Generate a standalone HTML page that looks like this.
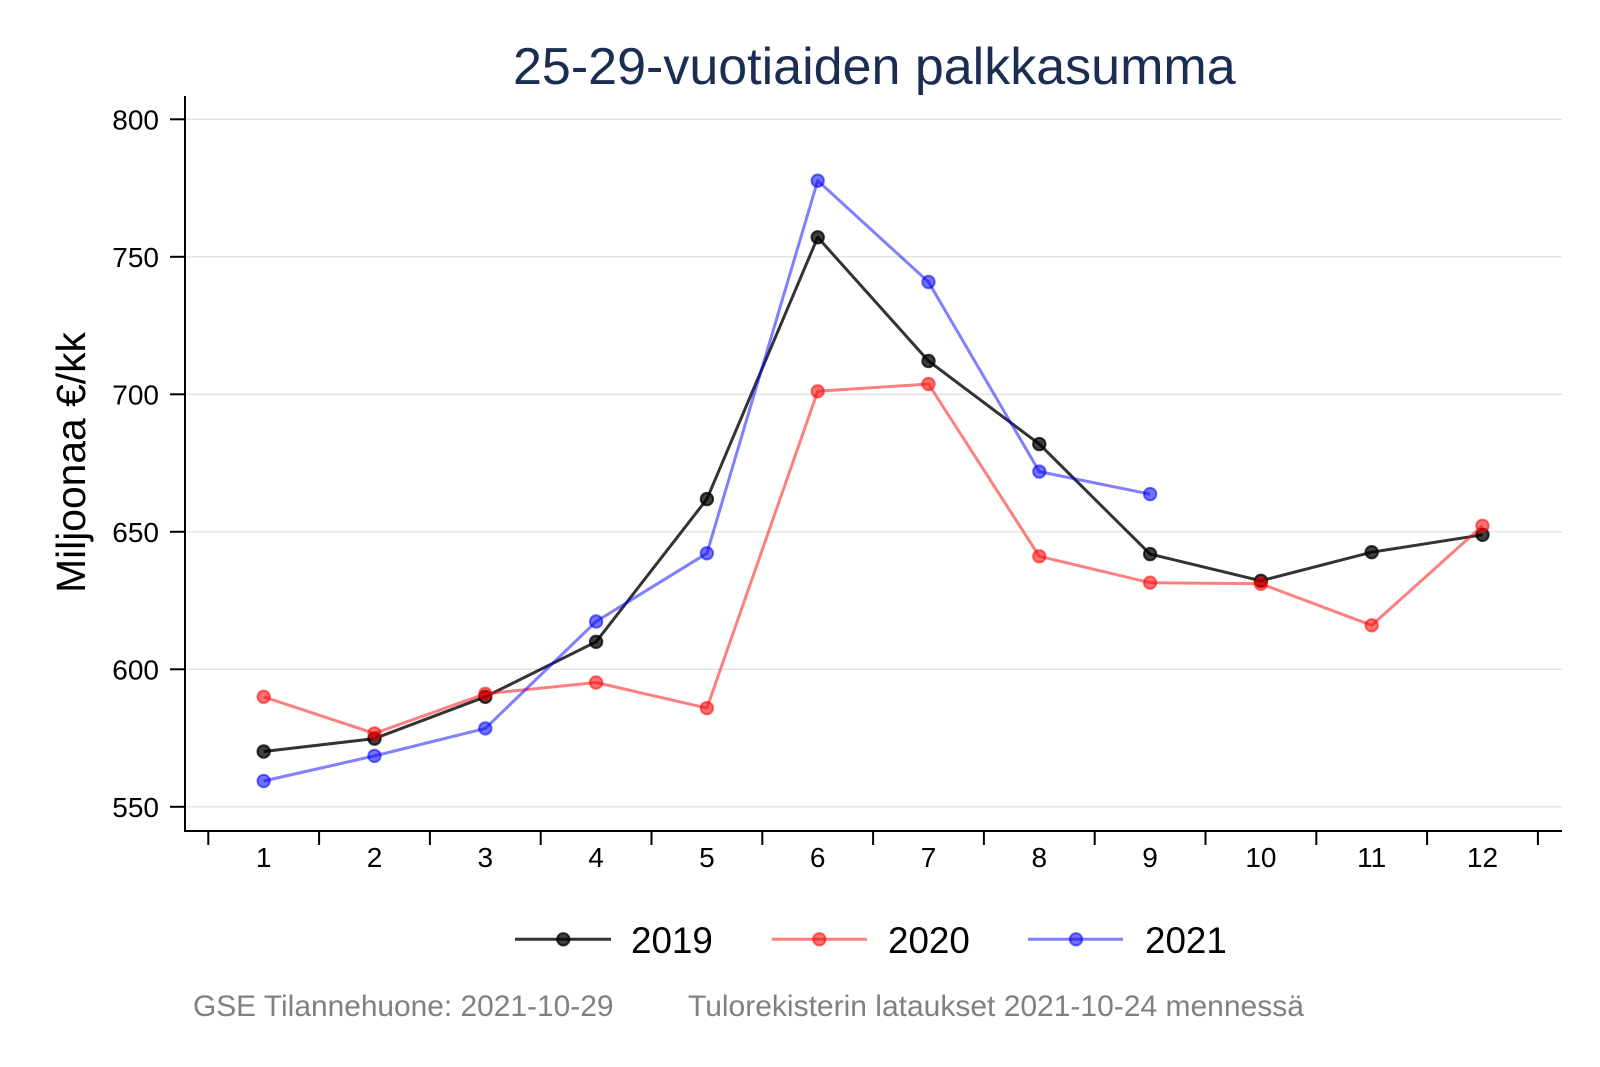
<!DOCTYPE html>
<html>
<head>
<meta charset="utf-8">
<style>
  html,body{margin:0;padding:0;background:#fff;}
  svg{display:block;}
  text{font-family:"Liberation Sans",Arial,sans-serif;}
</style>
</head>
<body>
<svg width="1600" height="1067" viewBox="0 0 1600 1067" xmlns="http://www.w3.org/2000/svg">
  <rect x="0" y="0" width="1600" height="1067" fill="#fff"/>

  <!-- Title -->
  <text x="513" y="84" font-size="52" fill="#1c2d52">25-29-vuotiaiden palkkasumma</text>

  <!-- Gridlines -->
  <g stroke="#e3e3e3" stroke-width="1.3">
    <line x1="186" y1="119.3" x2="1562" y2="119.3"/>
    <line x1="186" y1="256.8" x2="1562" y2="256.8"/>
    <line x1="186" y1="394.3" x2="1562" y2="394.3"/>
    <line x1="186" y1="531.8" x2="1562" y2="531.8"/>
    <line x1="186" y1="669.3" x2="1562" y2="669.3"/>
    <line x1="186" y1="806.8" x2="1562" y2="806.8"/>
  </g>

  <!-- Axes -->
  <g stroke="#000" stroke-width="2">
    <line x1="185" y1="96" x2="185" y2="832"/>
    <line x1="184" y1="831" x2="1562" y2="831"/>
    <!-- y ticks -->
    <line x1="170" y1="119.3" x2="185" y2="119.3"/>
    <line x1="170" y1="256.8" x2="185" y2="256.8"/>
    <line x1="170" y1="394.3" x2="185" y2="394.3"/>
    <line x1="170" y1="531.8" x2="185" y2="531.8"/>
    <line x1="170" y1="669.3" x2="185" y2="669.3"/>
    <line x1="170" y1="806.8" x2="185" y2="806.8"/>
    <!-- x ticks -->
    <line x1="208.3" y1="831" x2="208.3" y2="845"/>
    <line x1="319.1" y1="831" x2="319.1" y2="845"/>
    <line x1="429.9" y1="831" x2="429.9" y2="845"/>
    <line x1="540.7" y1="831" x2="540.7" y2="845"/>
    <line x1="651.5" y1="831" x2="651.5" y2="845"/>
    <line x1="762.3" y1="831" x2="762.3" y2="845"/>
    <line x1="873.1" y1="831" x2="873.1" y2="845"/>
    <line x1="983.9" y1="831" x2="983.9" y2="845"/>
    <line x1="1094.7" y1="831" x2="1094.7" y2="845"/>
    <line x1="1205.5" y1="831" x2="1205.5" y2="845"/>
    <line x1="1316.3" y1="831" x2="1316.3" y2="845"/>
    <line x1="1427.1" y1="831" x2="1427.1" y2="845"/>
    <line x1="1537.9" y1="831" x2="1537.9" y2="845"/>
  </g>

  <!-- Y tick labels -->
  <g font-size="28" fill="#000" text-anchor="end">
    <text x="159" y="129.3">800</text>
    <text x="159" y="266.8">750</text>
    <text x="159" y="404.3">700</text>
    <text x="159" y="541.8">650</text>
    <text x="159" y="679.3">600</text>
    <text x="159" y="816.8">550</text>
  </g>

  <!-- X tick labels -->
  <g font-size="28" fill="#000" text-anchor="middle">
    <text x="263.7" y="867">1</text>
    <text x="374.5" y="867">2</text>
    <text x="485.3" y="867">3</text>
    <text x="596.1" y="867">4</text>
    <text x="706.9" y="867">5</text>
    <text x="817.7" y="867">6</text>
    <text x="928.5" y="867">7</text>
    <text x="1039.3" y="867">8</text>
    <text x="1150.1" y="867">9</text>
    <text x="1260.9" y="867">10</text>
    <text x="1371.7" y="867">11</text>
    <text x="1482.5" y="867">12</text>
  </g>

  <!-- Y axis title -->
  <text transform="translate(85,462.5) rotate(-90)" font-size="40.8" fill="#000" text-anchor="middle">Miljoonaa €/kk</text>

  <!-- Series 2019 -->
  <polyline fill="none" stroke="#000" stroke-opacity="0.8" stroke-width="3" stroke-linejoin="round"
    points="263.7,751.5 374.5,738.6 485.3,696.8 596.1,641.8 706.9,499.1 817.7,237.3 928.5,361 1039.3,444.1 1150.1,554.1 1260.9,580.8 1371.7,552.2 1482.5,534.8"/>
  <g fill="#000" fill-opacity="0.75" stroke="#000" stroke-opacity="0.75" stroke-width="2">
    <circle cx="263.7" cy="751.5" r="6.2"/>
    <circle cx="374.5" cy="738.6" r="6.2"/>
    <circle cx="485.3" cy="696.8" r="6.2"/>
    <circle cx="596.1" cy="641.8" r="6.2"/>
    <circle cx="706.9" cy="499.1" r="6.2"/>
    <circle cx="817.7" cy="237.3" r="6.2"/>
    <circle cx="928.5" cy="361" r="6.2"/>
    <circle cx="1039.3" cy="444.1" r="6.2"/>
    <circle cx="1150.1" cy="554.1" r="6.2"/>
    <circle cx="1260.9" cy="580.8" r="6.2"/>
    <circle cx="1371.7" cy="552.2" r="6.2"/>
    <circle cx="1482.5" cy="534.8" r="6.2"/>
  </g>

  <!-- Series 2020 -->
  <polyline fill="none" stroke="#ff0000" stroke-opacity="0.5" stroke-width="3" stroke-linejoin="round"
    points="263.7,696.8 374.5,733.4 485.3,693.8 596.1,682.5 706.9,708.1 817.7,391.3 928.5,384 1039.3,556.3 1150.1,582.7 1260.9,583.8 1371.7,625.3 1482.5,525.8"/>
  <g fill="#ff0000" fill-opacity="0.55" stroke="#ff0000" stroke-opacity="0.55" stroke-width="2">
    <circle cx="263.7" cy="696.8" r="6.2"/>
    <circle cx="374.5" cy="733.4" r="6.2"/>
    <circle cx="485.3" cy="693.8" r="6.2"/>
    <circle cx="596.1" cy="682.5" r="6.2"/>
    <circle cx="706.9" cy="708.1" r="6.2"/>
    <circle cx="817.7" cy="391.3" r="6.2"/>
    <circle cx="928.5" cy="384" r="6.2"/>
    <circle cx="1039.3" cy="556.3" r="6.2"/>
    <circle cx="1150.1" cy="582.7" r="6.2"/>
    <circle cx="1260.9" cy="583.8" r="6.2"/>
    <circle cx="1371.7" cy="625.3" r="6.2"/>
    <circle cx="1482.5" cy="525.8" r="6.2"/>
  </g>

  <!-- Series 2021 -->
  <polyline fill="none" stroke="#0000ff" stroke-opacity="0.5" stroke-width="3" stroke-linejoin="round"
    points="263.7,781 374.5,755.9 485.3,728.4 596.1,621.5 706.9,553.3 817.7,180.7 928.5,282 1039.3,471.6 1150.1,494.1"/>
  <g fill="#0000ff" fill-opacity="0.55" stroke="#0000ff" stroke-opacity="0.55" stroke-width="2">
    <circle cx="263.7" cy="781" r="6.2"/>
    <circle cx="374.5" cy="755.9" r="6.2"/>
    <circle cx="485.3" cy="728.4" r="6.2"/>
    <circle cx="596.1" cy="621.5" r="6.2"/>
    <circle cx="706.9" cy="553.3" r="6.2"/>
    <circle cx="817.7" cy="180.7" r="6.2"/>
    <circle cx="928.5" cy="282" r="6.2"/>
    <circle cx="1039.3" cy="471.6" r="6.2"/>
    <circle cx="1150.1" cy="494.1" r="6.2"/>
  </g>

  <!-- Legend -->
  <line x1="515" y1="939.3" x2="611" y2="939.3" stroke="#000" stroke-opacity="0.8" stroke-width="3"/>
  <circle cx="563.3" cy="939.3" r="6.2" fill="#000" fill-opacity="0.75" stroke="#000" stroke-opacity="0.75" stroke-width="2"/>
  <text x="631" y="953" font-size="36.8" fill="#000">2019</text>

  <line x1="771.7" y1="939.3" x2="867" y2="939.3" stroke="#ff0000" stroke-opacity="0.5" stroke-width="3"/>
  <circle cx="819.3" cy="939.3" r="6.2" fill="#ff0000" fill-opacity="0.55" stroke="#ff0000" stroke-opacity="0.55" stroke-width="2"/>
  <text x="888" y="953" font-size="36.8" fill="#000">2020</text>

  <line x1="1028" y1="939.3" x2="1123" y2="939.3" stroke="#0000ff" stroke-opacity="0.5" stroke-width="3"/>
  <circle cx="1076" cy="939.3" r="6.2" fill="#0000ff" fill-opacity="0.55" stroke="#0000ff" stroke-opacity="0.55" stroke-width="2"/>
  <text x="1145" y="953" font-size="36.8" fill="#000">2021</text>

  <!-- Footnotes -->
  <text x="193" y="1016" font-size="29.9" fill="#808080">GSE Tilannehuone: 2021-10-29</text>
  <text x="688" y="1016" font-size="30" fill="#808080">Tulorekisterin lataukset 2021-10-24 mennessä</text>
</svg>
</body>
</html>
